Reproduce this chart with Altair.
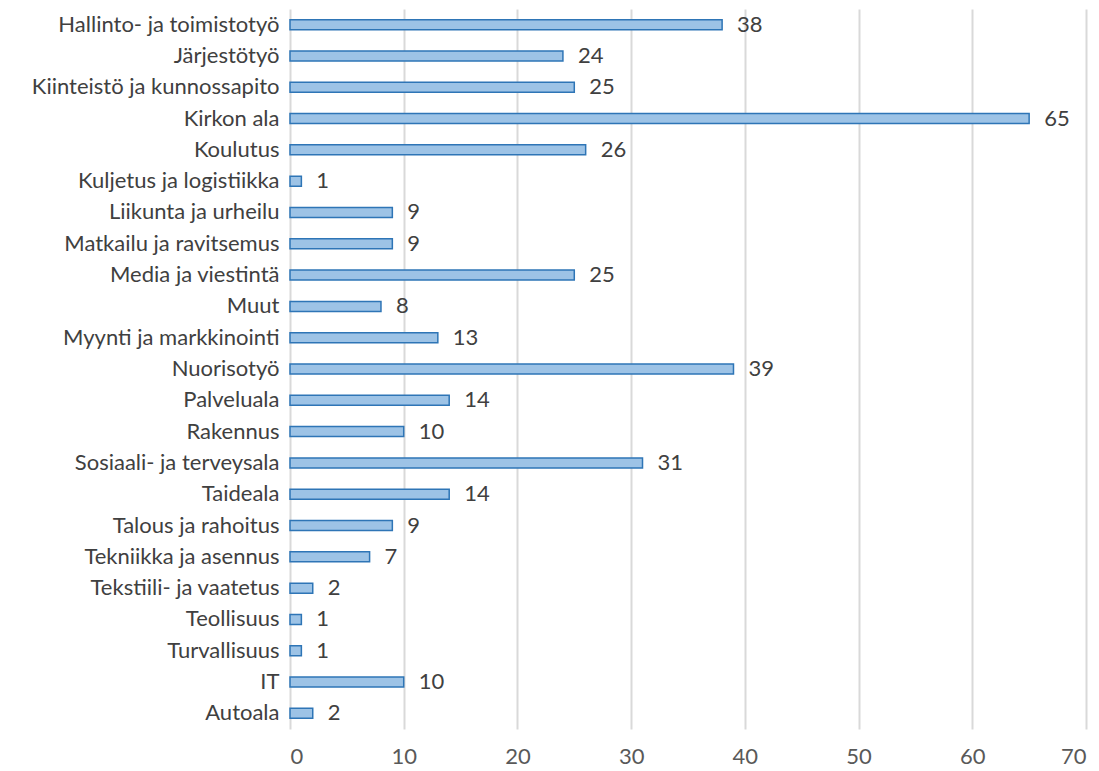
import altair as alt
import pandas as pd

categories = [
    "Hallinto- ja toimistotyö", "Järjestötyö", "Kiinteistö ja kunnossapito",
    "Kirkon ala", "Koulutus", "Kuljetus ja logistiikka", "Liikunta ja urheilu",
    "Matkailu ja ravitsemus", "Media ja viestintä", "Muut",
    "Myynti ja markkinointi", "Nuorisotyö", "Palveluala", "Rakennus",
    "Sosiaali- ja terveysala", "Taideala", "Talous ja rahoitus",
    "Tekniikka ja asennus", "Tekstiili- ja vaatetus", "Teollisuus",
    "Turvallisuus", "IT", "Autoala",
]
values = [38, 24, 25, 65, 26, 1, 9, 9, 25, 8, 13, 39, 14, 10, 31, 14, 9, 7, 2, 1, 1, 10, 2]

df = pd.DataFrame({"cat": categories, "val": values})

FONT = "Lato"
TXT = "#404040"
FS = 22

x = alt.X("val:Q", scale=alt.Scale(domain=[0, 70], nice=False),
          axis=alt.Axis(values=list(range(0, 80, 10)), title=None, domain=False,
                        ticks=False, grid=True, gridColor="#d9d9d9", gridWidth=2,
                        labelFont=FONT, labelFontSize=FS, labelColor="#595959",
                        labelPadding=17))
y = alt.Y("cat:N", sort=categories, scale=alt.Scale(paddingInner=0.0, paddingOuter=0.0),
          axis=alt.Axis(title=None, domain=False, ticks=False, grid=False,
                        labelFont=FONT, labelFontSize=FS, labelColor=TXT,
                        labelPadding=11, labelLimit=400))

bars = alt.Chart(df).mark_bar(size=10, color="#9dc3e6", stroke="#2e75b6",
                              strokeWidth=1.5).encode(x=x, y=y)
labels = alt.Chart(df).mark_text(align="left", baseline="middle", dx=15,
                                 font=FONT, fontSize=FS, color=TXT).encode(
    x="val:Q", y=alt.Y("cat:N", sort=categories), text="val:Q")

chart = (bars + labels).properties(
    width=796, height=720,
    autosize=alt.AutoSizeParams(type="none"),
    padding={"left": 282, "top": 1, "right": 5, "bottom": 40},
).configure_view(stroke=None)

chart.save("out.html", embed_options={"renderer": "svg", "actions": False})
